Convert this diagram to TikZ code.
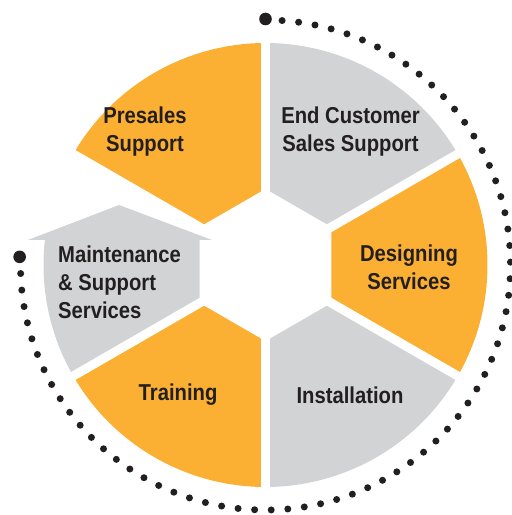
\documentclass[tikz,border=0pt]{standalone}
\usepackage{fontspec}
\newfontfamily\labelfont{Liberation Sans}[FakeStretch=0.88]
\definecolor{segorange}{HTML}{FBB034}
\definecolor{seggray}{HTML}{D1D3D4}
\definecolor{txt}{HTML}{231F20}
\begin{document}
\begin{tikzpicture}[x=1pt,y=1pt,
  lbl/.style={font=\labelfont\bfseries\fontsize{23}{28}\selectfont, text=txt, align=center, inner sep=0pt},
  gapline/.style={white, line width=9pt},
  dotline/.style={txt, line width=7pt, line cap=round, dash pattern=on 0pt off 16.61pt},
  bigdot/.style={fill=txt}]
\useasboundingbox (0,0) rectangle (512,515);
\coordinate (C) at (265.5,250);
\def\R{222}
% sectors
\fill[segorange] (C) -- ++(150:\R) arc[start angle=150, end angle=90, radius=\R] -- cycle;
\fill[seggray] (C) -- ++(90:\R) arc[start angle=90, end angle=30, radius=\R] -- cycle;
\fill[segorange] (C) -- ++(30:\R) arc[start angle=30, end angle=-30, radius=\R] -- cycle;
\fill[seggray] (C) -- ++(-30:\R) arc[start angle=-30, end angle=-90, radius=\R] -- cycle;
\fill[segorange] (C) -- ++(-90:\R) arc[start angle=-90, end angle=-150, radius=\R] -- cycle;
\begin{scope}
  \clip (0,0) rectangle (512,275);
  \fill[seggray] (C) -- ++(210:\R) arc[start angle=210, end angle=150, radius=\R] -- cycle;
\end{scope}
% gaps
\foreach \a in {30,90,150,210,270,330}
  \draw[gapline] (C) -- ++(\a:240);
\fill[white] (C) ++(90:76) -- ++(210:76) -- ++(270:76) -- ++(330:76) -- ++(30:76) -- ++(90:76) -- cycle;
% roof of the maintenance segment
\fill[seggray] (28,275) -- (119,310) -- (212,275) -- cycle;
% dotted arc
\draw[dotline] (C) ++(90:245) arc[start angle=90, end angle=-181.9, radius=245];
\fill[bigdot] (C) ++(90:246) circle (6.3);
\fill[bigdot] (C) ++(178.1:246) circle (6.3);
% labels
\node[lbl] (presales) at (145,383.5) {Presales\\Support};
\node[lbl] (endcust) at (350.5,383) {End Customer\\Sales Support};
\node[lbl] (design) at (409,247.5) {Designing\\Services};
\node[lbl, anchor=west, align=left] (maint) at (58,233) {Maintenance\\\& Support\\Services};
\node[lbl, anchor=base] (training) at (178,114) {Training};
\node[lbl, anchor=base] (install) at (350,111) {Installation};
\end{tikzpicture}
\end{document}
